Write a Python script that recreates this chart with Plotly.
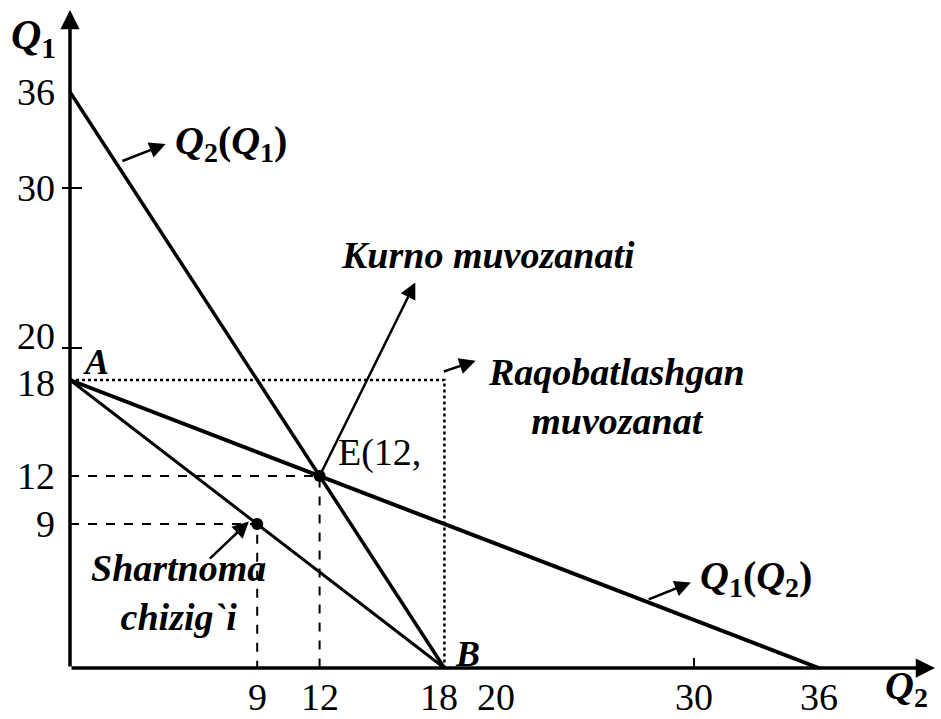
import plotly.graph_objects as go

# Reaction curves of the Cournot duopoly
q2_of_q1_x = [0, 18]      # Q2(Q1): from (0, 36) to (18, 0)
q2_of_q1_y = [36, 0]
q1_of_q2_x = [0, 36]      # Q1(Q2): from (0, 18) to (36, 0)
q1_of_q2_y = [18, 0]
contract_x = [0, 18]      # contract line A-B
contract_y = [18, 0]

# Equilibria
cournot = (12, 12)
contract_pt = (9, 9)
competitive = (18, 18)

x_ticks = [9, 12, 18, 20, 30, 36]
y_ticks = [36, 30, 20, 18, 12, 9]
x_marks = [30]            # small tick strokes on the Q2 axis
y_marks = [30, 20]        # small tick strokes on the Q1 axis

W, H = 941, 719
SX, SY = 20.8, 16.0       # pixels per unit
OX, OY = 70, 668          # origin in canvas pixels

SERIF = "Liberation Serif, Times New Roman, serif"
BLACK = "#000000"

fig = go.Figure()

# Main curves
fig.add_trace(go.Scatter(x=q2_of_q1_x, y=q2_of_q1_y, mode="lines",
                         line=dict(color=BLACK, width=3.5)))
fig.add_trace(go.Scatter(x=q1_of_q2_x, y=q1_of_q2_y, mode="lines",
                         line=dict(color=BLACK, width=4)))
fig.add_trace(go.Scatter(x=contract_x, y=contract_y, mode="lines",
                         line=dict(color=BLACK, width=3)))

# Dashed guides to the Cournot and contract points
for px_, py_ in (cournot, contract_pt):
    fig.add_trace(go.Scatter(x=[0, px_, px_], y=[py_, py_, 0], mode="lines",
                             line=dict(color=BLACK, width=2, dash="dash")))

# Dotted box of the competitive equilibrium
cx, cy = competitive
fig.add_trace(go.Scatter(x=[0, cx, cx], y=[cy, cy, 0], mode="lines",
                         line=dict(color=BLACK, width=2.5, dash="dot")))

# Points
fig.add_trace(go.Scatter(x=[cournot[0], contract_pt[0]], y=[cournot[1], contract_pt[1]],
                         mode="markers", marker=dict(color=BLACK, size=12)))

ann = []

def arrow(x_head, y_head, x_tail, y_tail, width=2.5, size=1.3):
    ann.append(dict(x=x_head, y=y_head, ax=x_tail, ay=y_tail, xref="x", yref="y",
                    axref="x", ayref="y", text="", showarrow=True, arrowhead=2,
                    arrowsize=size, arrowwidth=width, arrowcolor=BLACK))

def label(x, y, text, size=38, xanchor="center", yanchor="middle", xshift=0, yshift=0,
          align="center"):
    ann.append(dict(x=x, y=y, xref="x", yref="y", text=text, showarrow=False,
                    xanchor=xanchor, yanchor=yanchor, xshift=xshift, yshift=yshift,
                    align=align, font=dict(family=SERIF, size=size, color=BLACK)))

# Axes with arrowheads
x_end = (935 - OX) / SX
y_end = (OY - 10) / SY
arrow(x_end, 0, 0, 0, width=3.5, size=1.1)
arrow(0, y_end, 0, 0, width=3.5, size=1.1)

# Tick strokes
shapes = []
for v in x_marks:
    shapes.append(dict(type="line", xref="x", yref="y", x0=v, x1=v, y0=0, y1=10 / SY,
                       line=dict(color=BLACK, width=2)))
for v in y_marks:
    shapes.append(dict(type="line", xref="x", yref="y", x0=-8 / SX, x1=12 / SX, y0=v, y1=v,
                       line=dict(color=BLACK, width=2)))

# Tick labels (small nudges keep neighbouring labels apart)
x_nudge = {18: -5, 20: 10}
y_nudge = {20: 12, 18: -3}
for v in x_ticks:
    label(v, 0, str(v), size=38, yanchor="top", yshift=-6, xshift=x_nudge.get(v, 0))
for v in y_ticks:
    label(0, v, str(v), size=38, xanchor="right", xshift=-13, yshift=y_nudge.get(v, 0))

BI = lambda s: f"<b><i>{s}</i></b>"
Q = lambda i: f"<b><i>Q</i><sub>{i}</sub></b>"

# Axis titles
label(-1.75, 39.4, Q(1), size=42)
label(40.2, -1.25, Q(2), size=40)

# Point letters
label(0, 18, BI("A"), size=36, xshift=26, yshift=18)
label(18, 0, BI("B"), size=36, xshift=23, yshift=14)
label(12, 12, "E(12,", size=38, xanchor="left", xshift=16, yshift=24)

# Curve captions with pointer arrows
arrow(4.6, 32.75, 2.45, 31.65)
label(4.95, 32.8, f"{Q(2)}<b>(</b>{Q(1)}<b>)</b>", size=40, xanchor="left")

arrow(29.85, 5.35, 27.75, 4.25)
label(30.2, 5.6, f"{Q(1)}<b>(</b>{Q(2)}<b>)</b>", size=40, xanchor="left")

arrow(16.6, 24.1, cournot[0], cournot[1])
label(20.1, 25.8, BI("Kurno muvozanati"), size=38)

arrow(19.5, 19.2, 17.9, 18.5)
label(20.0, 17.0, BI("Raqobatlashgan<br>muvozanat"), size=38, xanchor="left")

arrow(8.6, 9.15, 6.65, 6.75)
label(5.2, 4.7, BI("Shartnoma<br>chizig`i"), size=38)

fig.update_layout(
    width=W, height=H,
    margin=dict(l=0, r=0, t=0, b=0),
    paper_bgcolor="white", plot_bgcolor="white",
    showlegend=False,
    xaxis=dict(range=[-OX / SX, (W - OX) / SX], visible=False, fixedrange=True),
    yaxis=dict(range=[-(H - OY) / SY, OY / SY], visible=False, fixedrange=True),
    annotations=ann, shapes=shapes,
)

fig.write_html("out.html")
